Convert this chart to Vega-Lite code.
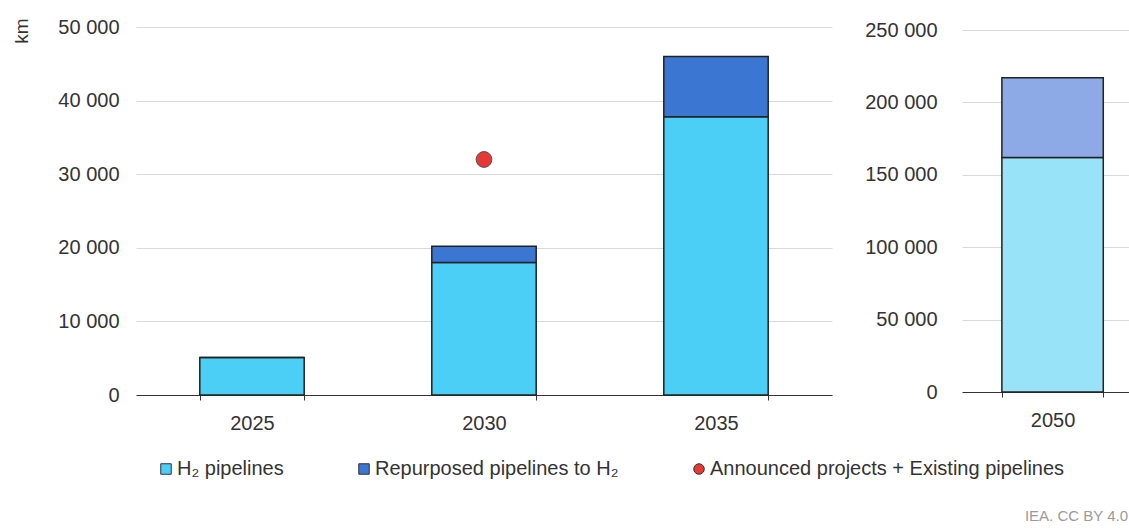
{
  "$schema": "https://vega.github.io/schema/vega-lite/v6.json",
  "background": "white",
  "padding": {"left": 12, "top": 17, "right": 0, "bottom": 4},
  "config": {
    "font": "Liberation Sans",
    "view": {"stroke": null},
    "axis": {
      "labelFont": "Liberation Sans",
      "labelColor": "#333333",
      "labelFontSize": 20,
      "gridColor": "#d9d9d9",
      "gridWidth": 1.2,
      "domainColor": "#333333",
      "tickColor": "#333333",
      "titleFont": "Liberation Sans"
    },
    "legend": {"labelFont": "Liberation Sans"}
  },
  "datasets": {
    "bars": [
      {"year": "2025", "series": "H₂ pipelines", "ord": 1, "value": 5100},
      {"year": "2025", "series": "Repurposed pipelines to H₂", "ord": 2, "value": 0},
      {"year": "2030", "series": "H₂ pipelines", "ord": 1, "value": 18000},
      {"year": "2030", "series": "Repurposed pipelines to H₂", "ord": 2, "value": 2200},
      {"year": "2035", "series": "H₂ pipelines", "ord": 1, "value": 37800},
      {"year": "2035", "series": "Repurposed pipelines to H₂", "ord": 2, "value": 8200}
    ],
    "bars2050": [
      {"year": "2050", "series": "H₂ pipelines", "ord": 1, "value": 162000},
      {"year": "2050", "series": "Repurposed pipelines to H₂", "ord": 2, "value": 55000}
    ],
    "dots": [
      {"year": "2030", "series": "Announced projects + Existing pipelines", "value": 32000}
    ]
  },
  "spacing": 32,
  "resolve": {"scale": {"y": "independent", "x": "independent", "fill": "independent"}},
  "title": {
    "text": "IEA. CC BY 4.0",
    "orient": "bottom",
    "anchor": "end",
    "fontSize": 15,
    "fontWeight": "normal",
    "color": "#9a9a9a",
    "offset": 30,
    "dx": -3
  },
  "hconcat": [
    {
      "width": 696,
      "height": 368,
      "layer": [
        {
          "data": {"name": "bars"},
          "mark": {"type": "bar", "stroke": "#222222", "strokeWidth": 1.5},
          "encoding": {
            "x": {
              "field": "year", "type": "nominal",
              "scale": {"paddingInner": 0.55, "paddingOuter": 0.275},
              "axis": {"title": null, "labelAngle": 0, "tickBand": "extent", "tickSize": 5, "labelPadding": 13, "domainWidth": 1.2}
            },
            "y": {
              "field": "value", "type": "quantitative", "stack": "zero",
              "scale": {"domain": [0, 50000]},
              "axis": {
                "title": "km", "titleAngle": -90, "titleX": -115, "titleY": -9,
                "titleAlign": "right", "titleBaseline": "middle",
                "titleFontSize": 19, "titleFontWeight": "normal", "titleColor": "#333333",
                "values": [0, 10000, 20000, 30000, 40000, 50000],
                "labelExpr": "replace(format(datum.value, ','), regexp(',', 'g'), ' ')",
                "ticks": false, "domain": false, "labelPadding": 17
              }
            },
            "color": {
              "field": "series", "type": "nominal",
              "scale": {
                "domain": ["H₂ pipelines", "Repurposed pipelines to H₂", "Announced projects + Existing pipelines"],
                "range": ["#4ccff6", "#3a76d2", "#e53935"]
              },
              "legend": {
                "title": null,
                "orient": "none",
                "direction": "horizontal",
                "legendX": 20,
                "legendY": 432,
                "labelFontSize": 20,
                "labelLimit": 500,
                "labelColor": "#333333",
                "labelOffset": 1,
                "columnPadding": 70,
                "symbolSize": 110,
                "symbolStrokeWidth": 1,
                "symbolStrokeColor": "#333333",
                "encode": {
                  "symbols": {
                    "update": {
                      "shape": {"signal": "datum.value === 'Announced projects + Existing pipelines' ? 'circle' : 'square'"},
                      "stroke": {"value": "#333333"},
                      "strokeWidth": {"value": 1}
                    }
                  }
                }
              }
            },
            "order": {"field": "ord", "type": "quantitative"}
          }
        },
        {
          "data": {"name": "dots"},
          "mark": {"type": "point", "filled": true, "size": 250, "stroke": "#555555", "strokeWidth": 1, "opacity": 1},
          "encoding": {
            "x": {"field": "year", "type": "nominal"},
            "y": {"field": "value", "type": "quantitative"},
            "color": {"field": "series", "type": "nominal"}
          }
        }
      ]
    },
    {
      "width": 169,
      "height": 365,
      "data": {"name": "bars2050"},
      "mark": {"type": "bar", "stroke": "#222222", "strokeWidth": 1.5},
      "encoding": {
        "x": {
          "field": "year", "type": "nominal",
          "scale": {"paddingInner": 0.4, "paddingOuter": 0.2, "align": 0.59},
          "axis": {"title": null, "labelAngle": 0, "tickBand": "extent", "tickSize": 5, "labelPadding": 13, "domainWidth": 1.2}
        },
        "y": {
          "field": "value", "type": "quantitative", "stack": "zero",
          "scale": {"domain": [0, 252072], "nice": false},
          "axis": {
            "title": null,
            "values": [0, 50000, 100000, 150000, 200000, 250000],
            "labelExpr": "replace(format(datum.value, ','), regexp(',', 'g'), ' ')",
            "ticks": false, "domain": false, "labelPadding": 25
          }
        },
        "fill": {
          "field": "series", "type": "nominal",
          "scale": {"domain": ["H₂ pipelines", "Repurposed pipelines to H₂"], "range": ["#98e3f8", "#8eaae6"]},
          "legend": null
        },
        "order": {"field": "ord", "type": "quantitative"}
      }
    }
  ]
}
